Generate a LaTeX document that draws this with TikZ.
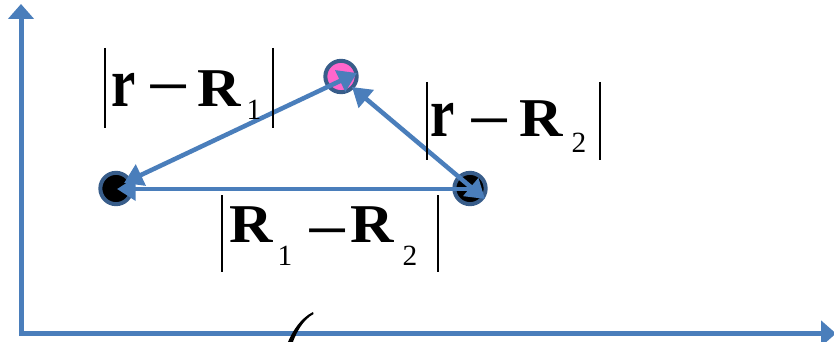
\documentclass[tikz,border=0pt]{standalone}
\usepackage{fontspec}
\setmainfont{Liberation Serif}
\usetikzlibrary{arrows.meta}
\definecolor{axisblue}{RGB}{74,126,187}
\definecolor{ringblue}{RGB}{56,93,138}
\definecolor{nucpink}{RGB}{255,102,204}
\newcommand{\vecR}{\scalebox{1.1}[1]{R}}
\newcommand{\vecr}{\scalebox{1}[1.28]{r}}
\newcommand{\minsign}{\scalebox{1.45}[1]{−}}
\begin{document}
\begin{tikzpicture}[x=0.75pt,y=-0.75pt,
  vec/.style={draw=axisblue, line width=3.4pt},
  axisline/.style={draw=axisblue, line width=3.75pt},
  vtip/.tip={Triangle[length=14pt,width=17pt]},
  atip/.tip={Triangle[length=11.25pt,width=19pt]},
  nuc/.style={circle, draw=ringblue, line width=3pt, minimum size=23.5pt, inner sep=0pt},
  bb/.style={font=\fontsize{41}{41}\selectfont\bfseries, inner sep=0pt, anchor=base},
  subs/.style={font=\fontsize{22}{22}\selectfont, inner sep=0pt, anchor=base},
  mn/.style={font=\fontsize{40}{40}\selectfont\bfseries, inner sep=0pt},
  barline/.style={draw=black, line width=1.6pt}
]
\clip (0,0) rectangle (834,342);
% axes
\coordinate (Oy) at (21,336);
\coordinate (Ox) at (19,333.5);
\coordinate (ytip) at (21,4);
\coordinate (xtip) at (836,333.5);
\draw[axisline, -{atip}] (Oy) -- (ytip);
\draw[axisline, -{atip}] (Ox) -- (xtip);
% cut-off bracket fragment
\fill[black] (313,312) .. controls (301,318) and (293,330) .. (287.5,343)
  -- (292.5,343) .. controls (297,331) and (303,320) .. (313.5,314) -- cycle;
% nuclei and electron
\node[nuc, fill=black] (A) at (116,188.5) {};
\node[nuc, fill=black] (B) at (470,188.5) {};
\node[nuc, fill=nucpink] (P) at (341,76.5) {};
% vectors
\coordinate (a1) at (124,183);
\coordinate (p1) at (357,73);
\coordinate (p2) at (352,87);
\coordinate (b2) at (485,199);
\coordinate (a3) at (117,189);
\coordinate (b3) at (470,189);
\draw[vec, {vtip}-{vtip}] (a1) -- (p1);
\draw[vec, {vtip}-{vtip}] (p2) -- (b2);
\draw[vec, -{vtip}] (b3) -- (a3);
% label |r - R1|
\draw[barline] (105,48) -- (105,128);
\draw[barline] (273,48) -- (273,128);
\node[bb] (l1r) at (124,107) {\vecr};
\node[mn] (l1m) at (169,94.5) {\minsign};
\node[bb] (l1R) at (219,107) {\vecR};
\node[subs] (l1s) at (254,120) {1};
% label |r - R2|
\draw[barline] (427,82) -- (427,160);
\draw[barline] (600,82) -- (600,160);
\node[bb] (l2r) at (443,137) {\vecr};
\node[mn] (l2m) at (490,128.5) {\minsign};
\node[bb] (l2R) at (541.5,137) {\vecR};
\node[subs] (l2s) at (579,152) {2};
% label |R1 - R2|
\draw[barline] (222,195) -- (222,272);
\draw[barline] (438,195) -- (438,272);
\node[bb] (l3R) at (251.5,242) {\vecR};
\node[subs] (l3s) at (285,265) {1};
\node[mn] (l3m) at (327.5,238.5) {\minsign};
\node[bb] (l3Q) at (372.5,242) {\vecR};
\node[subs] (l3t) at (410,265) {2};
\end{tikzpicture}
\end{document}
